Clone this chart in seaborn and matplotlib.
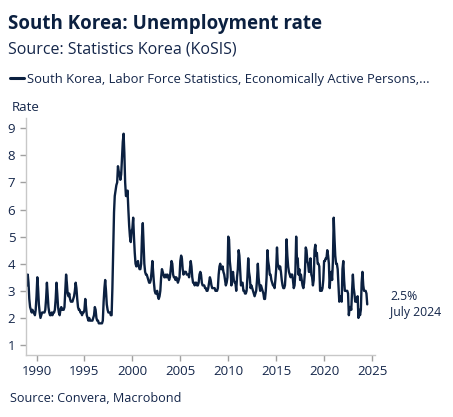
import matplotlib
matplotlib.use("Agg")
import matplotlib.pyplot as plt
import matplotlib.dates as mdates
import seaborn as sns
import pandas as pd
import numpy as np

# ---- Data: monthly unemployment rate (%), Jan 1989 - Jul 2024 ----
rate_1989_1997 = [
    3.2, 3.6, 3.3, 2.7, 2.4, 2.3, 2.2, 2.3, 2.2, 2.2, 2.1, 2.3,   # 1989
    2.8, 3.5, 3.1, 2.5, 2.2, 2.0, 2.1, 2.2, 2.2, 2.2, 2.2, 2.3,   # 1990
    2.7, 3.3, 2.9, 2.4, 2.2, 2.1, 2.1, 2.2, 2.1, 2.2, 2.2, 2.3,   # 1991
    2.7, 3.3, 2.9, 2.4, 2.2, 2.1, 2.3, 2.4, 2.3, 2.3, 2.3, 2.4,   # 1992
    3.0, 3.6, 3.3, 2.9, 2.8, 2.9, 2.7, 2.6, 2.6, 2.6, 2.7, 2.8,   # 1993
    3.0, 3.3, 3.1, 2.7, 2.4, 2.3, 2.3, 2.2, 2.2, 2.1, 2.2, 2.2,   # 1994
    2.3, 2.7, 2.4, 2.1, 2.0, 1.9, 2.0, 1.9, 1.9, 1.9, 1.9, 2.0,   # 1995
    2.1, 2.4, 2.3, 2.0, 1.9, 1.9, 1.8, 1.8, 1.8, 1.8, 1.8, 1.9,   # 1996
    2.6, 3.1, 3.4, 3.0, 2.5, 2.3, 2.2, 2.2, 2.2, 2.1, 2.1, 3.1,   # 1997
]
rate_1998_2005 = [
    4.5, 5.9, 6.5, 6.7, 6.9, 7.0, 7.6, 7.4, 7.3, 7.1, 7.3, 7.9,   # 1998
    8.5, 8.8, 8.1, 7.0, 6.5, 6.5, 6.7, 6.0, 5.4, 5.0, 4.8, 5.2,   # 1999
    5.3, 5.7, 5.0, 4.4, 4.0, 3.9, 4.0, 4.1, 3.9, 3.8, 3.8, 4.0,   # 2000
    5.0, 5.5, 4.8, 4.0, 3.7, 3.6, 3.6, 3.5, 3.4, 3.3, 3.3, 3.4,   # 2001
    3.7, 4.1, 3.7, 3.3, 3.0, 2.9, 2.9, 3.0, 2.8, 2.7, 2.8, 3.0,   # 2002
    3.5, 3.8, 3.7, 3.6, 3.5, 3.5, 3.6, 3.5, 3.6, 3.5, 3.4, 3.5,   # 2003
    3.8, 4.1, 4.0, 3.6, 3.5, 3.5, 3.4, 3.5, 3.4, 3.3, 3.4, 3.5,   # 2004
    4.1, 4.3, 4.2, 3.8, 3.6, 3.7, 3.7, 3.7, 3.6, 3.6, 3.6, 3.5,   # 2005
]
rate_2006_2014 = [
    3.8, 4.1, 3.9, 3.5, 3.3, 3.3, 3.2, 3.3, 3.3, 3.2, 3.2, 3.3,   # 2006
    3.6, 3.7, 3.6, 3.3, 3.2, 3.2, 3.2, 3.1, 3.1, 3.0, 3.0, 3.1,   # 2007
    3.3, 3.5, 3.4, 3.2, 3.1, 3.1, 3.1, 3.1, 3.0, 3.0, 3.0, 3.1,   # 2008
    3.6, 3.9, 4.0, 3.8, 3.8, 3.9, 3.7, 3.6, 3.4, 3.2, 3.3, 3.5,   # 2009
    5.0, 4.9, 4.1, 3.8, 3.2, 3.5, 3.7, 3.4, 3.3, 3.3, 3.0, 3.5,   # 2010
    3.8, 4.5, 4.3, 3.7, 3.2, 3.3, 3.3, 3.0, 3.0, 2.9, 2.9, 3.0,   # 2011
    3.5, 4.2, 3.7, 3.5, 3.1, 3.2, 3.1, 3.0, 2.9, 2.8, 2.9, 3.0,   # 2012
    3.4, 4.0, 3.5, 3.2, 3.0, 3.2, 3.1, 3.0, 2.9, 2.7, 2.7, 3.0,   # 2013
    3.5, 4.5, 4.1, 3.9, 3.6, 3.6, 3.4, 3.3, 3.2, 3.2, 3.1, 3.4,   # 2014
]
rate_2015_2024 = [
    3.8, 4.6, 4.0, 3.9, 3.8, 3.9, 3.7, 3.4, 3.2, 3.1, 3.1, 3.2,   # 2015
    3.7, 4.9, 4.3, 3.9, 3.7, 3.6, 3.5, 3.6, 3.6, 3.4, 3.1, 3.2,   # 2016
    3.7, 5.0, 4.2, 4.2, 3.6, 3.8, 3.4, 3.6, 3.4, 3.2, 3.1, 3.3,   # 2017
    3.7, 4.6, 4.5, 4.1, 4.0, 3.7, 3.7, 4.2, 3.6, 3.5, 3.2, 3.4,   # 2018
    4.5, 4.7, 4.3, 4.4, 4.0, 4.0, 3.9, 3.0, 3.1, 3.0, 3.1, 3.4,   # 2019
    4.1, 4.1, 4.2, 4.2, 4.5, 4.3, 4.0, 3.1, 3.6, 3.7, 3.4, 4.1,   # 2020
    5.7, 4.9, 4.3, 4.0, 4.0, 3.8, 3.2, 2.6, 2.7, 2.8, 2.6, 3.8,   # 2021
    4.1, 3.4, 3.0, 3.0, 3.0, 3.0, 2.9, 2.1, 2.4, 2.4, 2.3, 3.0,   # 2022
    3.6, 3.1, 2.9, 2.6, 2.7, 2.6, 2.8, 2.0, 2.3, 2.1, 2.3, 3.3,   # 2023
    3.7, 3.2, 3.0, 3.0, 3.0, 2.9, 2.5,                            # 2024
]
start_month = "1989-01-01"
series_label = "South Korea, Labor Force Statistics, Economically Active Persons,..."
y_ticks = [1, 2, 3, 4, 5, 6, 7, 8, 9]
x_tick_years = [1990, 1995, 2000, 2005, 2010, 2015, 2020, 2025]
last_value_label = "2.5%"
last_date_label = "July 2024"

rates = rate_1989_1997 + rate_1998_2005 + rate_2006_2014 + rate_2015_2024
dates = pd.date_range(start_month, periods=len(rates), freq="MS")
df = pd.DataFrame({"date": dates, "rate": rates})

# ---- Style ----
sns.set_theme(style="white")
plt.rcParams["font.family"] = ["Open Sans", "DejaVu Sans"]

NAVY = "#0b2040"
TEXT = "#14264a"
SPINE = "#c8c8c8"

W, H = 453, 417
fig = plt.figure(figsize=(W / 100, H / 100), dpi=100)
ax = fig.add_axes([25.7 / W, 62 / H, (375 - 25.7) / W, (355 - 118.3) / H])

sns.lineplot(data=df, x="date", y="rate", ax=ax, color=NAVY, linewidth=1.7,
             label=series_label, legend=False)

ax.set_ylim(0.631, 9.369)
ax.set_xlim(pd.Timestamp("1988-11-15"), pd.Timestamp("2025-04-23"))
ax.set_yticks(y_ticks)
ax.set_xticks([pd.Timestamp(f"{y}-01-01") for y in x_tick_years])
ax.xaxis.set_major_formatter(mdates.DateFormatter("%Y"))
ax.set_xlabel("")
ax.set_ylabel("")

for s in ["top", "right"]:
    ax.spines[s].set_visible(False)
for s in ["left", "bottom"]:
    ax.spines[s].set_color(SPINE)
    ax.spines[s].set_linewidth(1.0)

ax.tick_params(axis="both", which="major", length=4, width=1.0, color="#a0a0a0",
               labelsize=9.5, labelcolor=TEXT)
ax.tick_params(axis="x", pad=3, bottom=True)
ax.tick_params(axis="y", pad=3.5, left=True)
ax.grid(False)

# ---- Texts ----
fig.text(8 / W, 1 - 29.3 / H, "South Korea: Unemployment rate", fontsize=13.5,
         fontweight="bold", color=NAVY, va="baseline", ha="left")
fig.text(8 / W, 1 - 53.3 / H, "Source: Statistics Korea (KoSIS)", fontsize=11.5,
         color=TEXT, va="baseline", ha="left")

handles, labels = ax.get_legend_handles_labels()
leg = fig.legend(handles, labels, loc="center left",
                 bbox_to_anchor=(9.5 / W, 1 - 79.5 / H), frameon=False,
                 fontsize=9.4, handlelength=1.1, handletextpad=0.25,
                 borderpad=0, borderaxespad=0)
for t in leg.get_texts():
    t.set_color(TEXT)
for l in leg.get_lines():
    l.set_linewidth(2.2)

fig.text(11.7 / W, 1 - 111 / H, "Rate", fontsize=9.5, color=TEXT,
         va="baseline", ha="left")

fig.text(390 / W, 1 - 296.7 / H, last_value_label, fontsize=8.8, color=TEXT,
         va="center", ha="left")
fig.text(390 / W, 1 - 312.7 / H, last_date_label, fontsize=8.8, color=TEXT,
         va="center", ha="left")

fig.text(10 / W, 1 - 401.7 / H, "Source: Convera, Macrobond", fontsize=9.1,
         color=TEXT, va="baseline", ha="left")

fig.savefig("out.png", dpi=100)
